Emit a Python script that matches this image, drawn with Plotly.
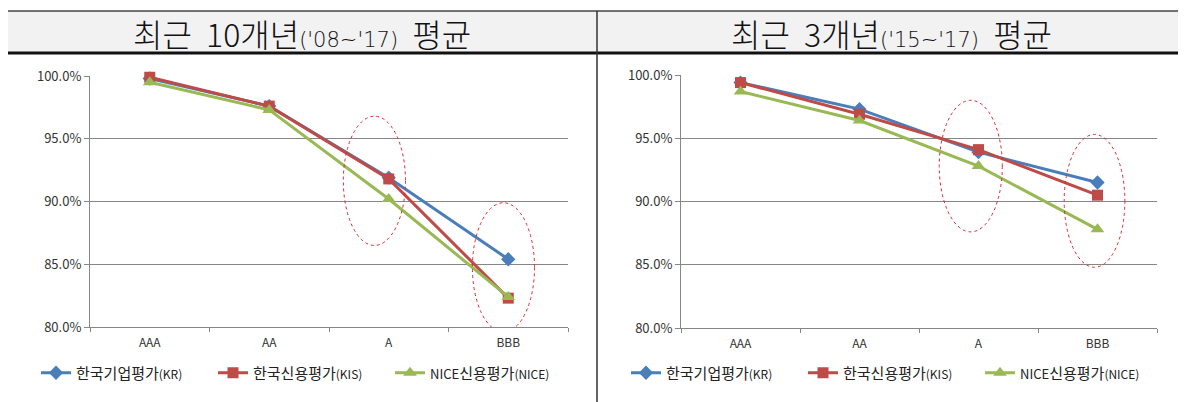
import plotly.graph_objects as go

categories = ["AAA", "AA", "A", "BBB"]

# 최근 10개년('08~'17) 평균
kr_10 = [99.8, 97.6, 91.9, 85.4]
kis_10 = [99.9, 97.6, 91.8, 82.3]
nice_10 = [99.5, 97.3, 90.2, 82.4]

# 최근 3개년('15~'17) 평균
kr_3 = [99.4, 97.3, 93.9, 91.5]
kis_3 = [99.4, 96.9, 94.1, 90.5]
nice_3 = [98.7, 96.4, 92.8, 87.8]

series_names = [
    "한국기업평가<span style='font-size:12px'>(KR)</span>",
    "한국신용평가<span style='font-size:12px'>(KIS)</span>",
    "<span style='font-size:13px'>NICE</span>신용평가<span style='font-size:12px'>(NICE)</span>",
]
colors = ["#4A7EBB", "#BE4B48", "#98B954"]
symbols = ["diamond", "square", "triangle-up"]
msizes = [11, 11, 12]

PAREN = "font-family:DejaVu Sans;font-size:21px"
titles = [
    f"최근&nbsp;&nbsp;10개년<span style='{PAREN}'>('08~'17)</span>&nbsp;&nbsp;평균",
    f"최근&nbsp;&nbsp;3개년<span style='{PAREN}'>('15~'17)</span>&nbsp;&nbsp;평균",
]

# the page body adds an 8px margin; the figure is sized to the remaining window
OFF = 8
W, H = 1186 - OFF, 402 - OFF
FONT = "Noto Sans CJK KR"

fig = go.Figure()

panels = [
    ([kr_10, kis_10, nice_10], "x", "y", "legend"),
    ([kr_3, kis_3, nice_3], "x2", "y2", "legend2"),
]
for vals, xa, ya, lg in panels:
    for i, v in enumerate(vals):
        fig.add_trace(go.Scatter(
            x=categories, y=v, xaxis=xa, yaxis=ya, legend=lg,
            name=series_names[i], mode="lines+markers",
            line=dict(color=colors[i], width=3),
            marker=dict(symbol=symbols[i], size=msizes[i], color=colors[i]),
            cliponaxis=False,
        ))

def px_x(p):
    return (p - OFF) / W

def px_y(p):
    return 1 - (p - OFF) / H

axis_common_x = dict(
    type="category", range=[-0.5, 3.5], tickson="boundaries", ticks="outside",
    ticklen=4, tickcolor="#868686", showline=True, linecolor="#868686", linewidth=1,
    showgrid=False, tickfont=dict(family=FONT, size=12, color="#333333"),
    ticklabelstandoff=5, fixedrange=True, automargin=False,
)
axis_common_y = dict(
    range=[80, 100], dtick=5, tickformat=".1f", ticksuffix="%",
    ticks="outside", ticklen=5, tickcolor="#868686",
    showline=True, linecolor="#868686", linewidth=1,
    showgrid=True, gridcolor="#868686", gridwidth=1, zeroline=False,
    tickfont=dict(family=FONT, size=13, color="#333333"), fixedrange=True,
    automargin=False,
)

legend_common = dict(orientation="h", xanchor="left", yanchor="middle",
                     font=dict(family=FONT, size=15, color="#222222"), itemwidth=30,
                     bgcolor="rgba(0,0,0,0)", tracegroupgap=0, entrywidth=132)

fig.update_layout(
    width=W, height=H,
    margin=dict(l=0, r=0, t=0, b=0, autoexpand=False),
    paper_bgcolor="white", plot_bgcolor="white",
    font=dict(family=FONT, color="#222222"),
    xaxis=dict(axis_common_x, domain=[px_x(90), px_x(568)], anchor="y"),
    yaxis=dict(axis_common_y, domain=[px_y(327), px_y(76)], anchor="x"),
    xaxis2=dict(axis_common_x, domain=[px_x(681), px_x(1157)], anchor="y2"),
    yaxis2=dict(axis_common_y, domain=[px_y(328), px_y(75)], anchor="x2"),
    legend=dict(legend_common, x=px_x(36), y=px_y(373)),
    legend2=dict(legend_common, x=px_x(626), y=px_y(373)),
    showlegend=True,
)

shapes = []
# header background and borders
shapes.append(dict(type="rect", xref="paper", yref="paper",
                   x0=0, x1=1, y0=px_y(53), y1=px_y(11),
                   fillcolor="#F2F2F2", line=dict(width=0), layer="below"))
shapes.append(dict(type="line", xref="paper", yref="paper",
                   x0=0, x1=1, y0=px_y(11), y1=px_y(11),
                   line=dict(color="#444444", width=1.3)))
shapes.append(dict(type="line", xref="paper", yref="paper",
                   x0=0, x1=1, y0=px_y(53), y1=px_y(53),
                   line=dict(color="#111111", width=3)))
shapes.append(dict(type="line", xref="paper", yref="paper",
                   x0=px_x(597), x1=px_x(597), y0=0, y1=px_y(11),
                   line=dict(color="#333333", width=1.5)))

# dashed highlight ellipses
ell = dict(type="circle", line=dict(color="#E0282E", width=1, dash="dot"))
shapes.append(dict(ell, xref="x", yref="y", x0=1.62, x1=2.14, y0=86.5, y1=96.8))
shapes.append(dict(ell, xref="x", yref="y", x0=2.70, x1=3.22, y0=79.6, y1=89.9))
shapes.append(dict(ell, xref="x2", yref="y2", x0=1.67, x1=2.20, y0=87.6, y1=98.0))
shapes.append(dict(ell, xref="x2", yref="y2", x0=2.72, x1=3.23, y0=84.8, y1=95.3))
fig.update_layout(shapes=shapes)

annotations = []
for t, cx in zip(titles, [302, 891]):
    annotations.append(dict(text=t, xref="paper", yref="paper", x=px_x(cx), y=px_y(33),
                            xanchor="center", yanchor="middle", showarrow=False,
                            font=dict(family=FONT, size=32, color="#111111", weight=300)))
fig.update_layout(annotations=annotations)

fig.write_html("out.html")
